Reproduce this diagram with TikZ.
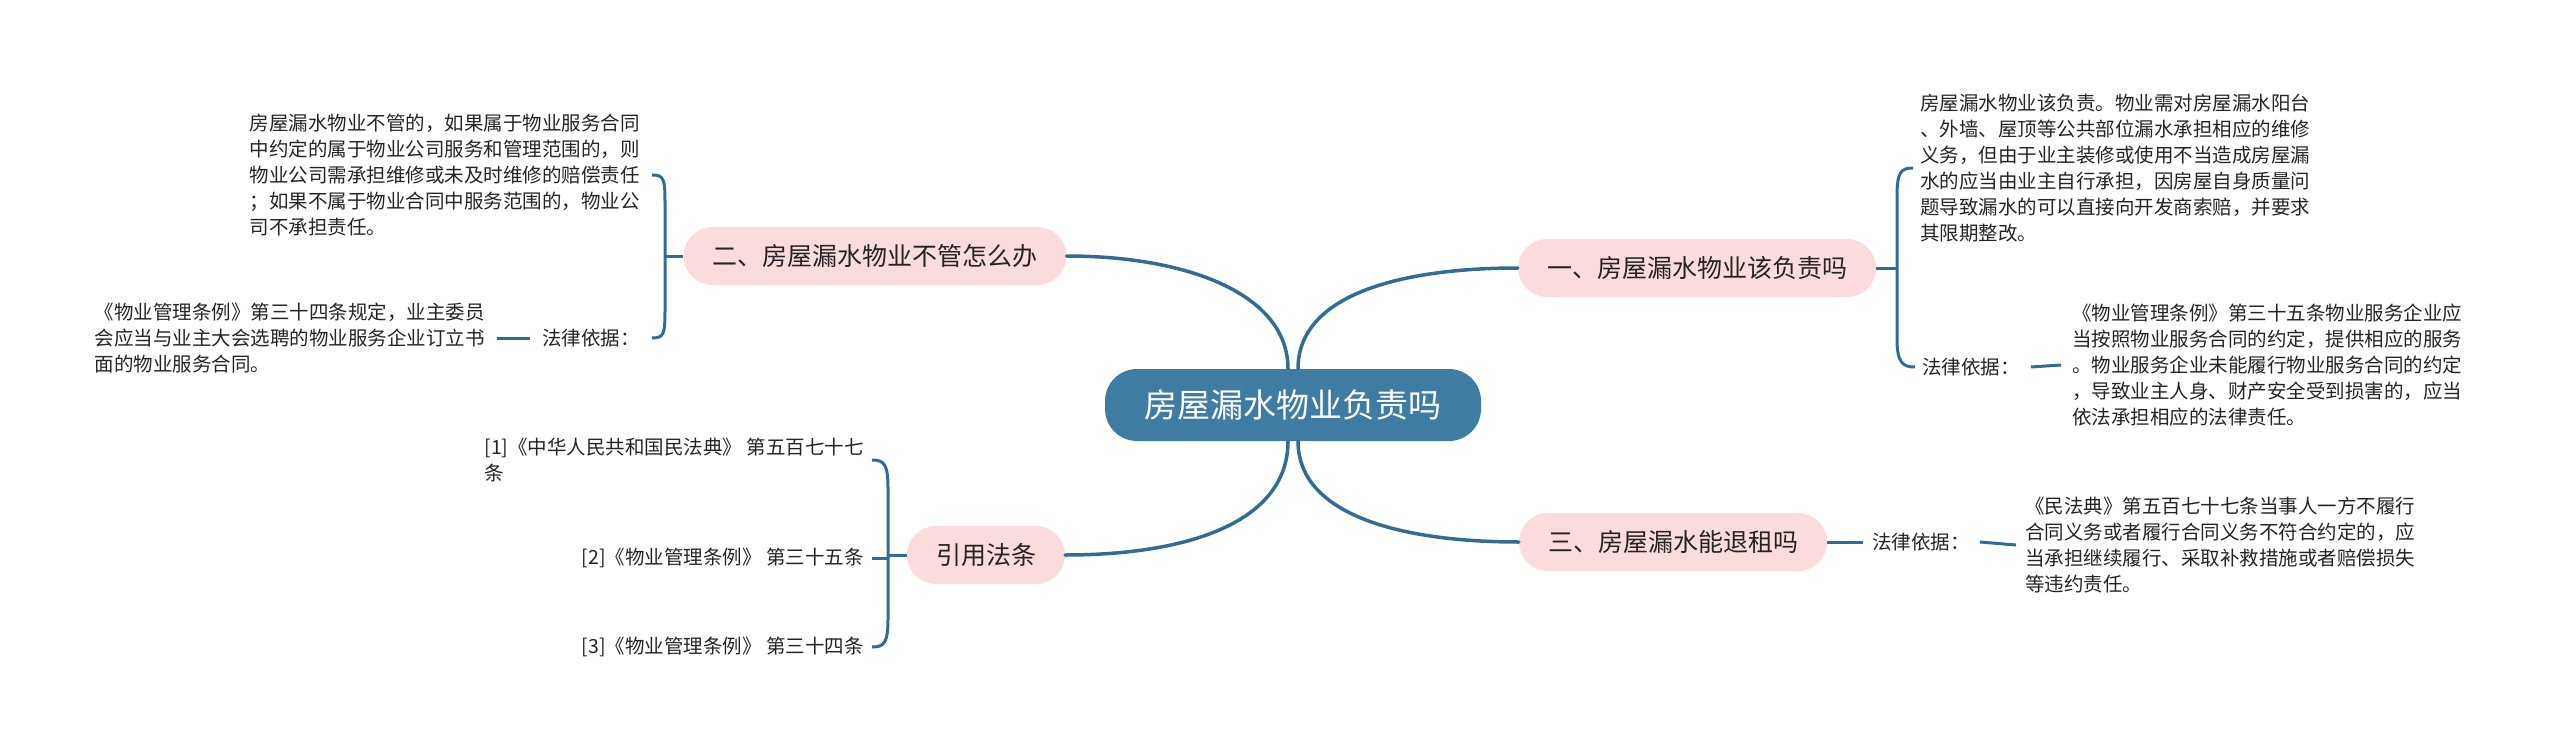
\documentclass[tikz,border=0pt]{standalone}
\usepackage{fontspec}
\usepackage{tikz}
\usetikzlibrary{calc,positioning}
\newfontfamily\cjk{Noto Sans CJK SC}
\definecolor{lineblue}{RGB}{50,108,148}
\definecolor{rootblue}{RGB}{62,124,163}
\definecolor{branchpink}{RGB}{251,220,220}
\definecolor{inkgray}{RGB}{36,36,36}
\tikzset{
  rootnode/.style={
    shape = rectangle,
    rounded corners = 32pt,
    fill = rootblue,
    text = white,
    minimum width = 376pt,
    minimum height = 72pt,
    font = \cjk\fontsize{33}{38}\selectfont
  },
  branchnode/.style={
    shape = rectangle,
    rounded corners = 29pt,
    fill = branchpink,
    text = inkgray,
    inner xsep = 29pt,
    minimum height = 58pt,
    font = \cjk\fontsize{25}{30}\selectfont
  },
  leafnode/.style={
    inner sep = 0pt,
    align = left,
    text = inkgray,
    font = \cjk\fontsize{19.5}{26}\selectfont
  },
  linkline/.style={
    draw = lineblue,
    line width = 3.5pt,
    line cap = round
  },
  bracketline/.style={
    draw = lineblue,
    line width = 3pt
  }
}
\begin{document}
\begin{tikzpicture}[x=1pt,y=-1pt]
        \useasboundingbox (0,0) rectangle (2560,752);

        % centre and branches
        \node[rootnode] (root) at (1293,405) {房屋漏水物业负责吗};
        \node[branchnode] (n1) at (1697,268) {一、房屋漏水物业该负责吗};
        \node[branchnode] (n2) at (875,256) {二、房屋漏水物业不管怎么办};
        \node[branchnode] (n3) at (1673,542) {三、房屋漏水能退租吗};
        \node[branchnode] (n4) at (986,555) {引用法条};

        \draw[linkline] ([xshift=-5pt]root.north) .. controls +(0,-75) and +(120,0) .. (n2.east);
        \draw[linkline] ([xshift=5pt]root.north) .. controls +(0,-75) and +(-115,0) .. (n1.west);
        \draw[linkline] ([xshift=-5pt]root.south) .. controls +(0,80) and +(125,0) .. (n4.east);
        \draw[linkline] ([xshift=5pt]root.south) .. controls +(0,75) and +(-115,0) .. (n3.west);

        % branch one
        \node[leafnode, anchor=west] (l1a) at (1920,168) {房屋漏水物业该负责。物业需对房屋漏水阳台\\、外墙、屋顶等公共部位漏水承担相应的维修\\义务，但由于业主装修或使用不当造成房屋漏\\水的应当由业主自行承担，因房屋自身质量问\\题导致漏水的可以直接向开发商索赔，并要求\\其限期整改。};
        \node[leafnode, anchor=west] (l1b) at (1922,367) {法律依据：};
        \node[leafnode, anchor=west] (l1c) at (2072,365) {《物业管理条例》第三十五条物业服务企业应\\当按照物业服务合同的约定，提供相应的服务\\。物业服务企业未能履行物业服务合同的约定\\，导致业主人身、财产安全受到损害的，应当\\依法承担相应的法律责任。};

        \draw[bracketline] (n1.east) -- (1897,268);
        \draw[bracketline] ($(l1a.west)+(-7,0)$) .. controls +(-12,0) and +(0,-24) .. (1897,196) -- (1897,339) .. controls +(0,24) and +(-12,0) .. ($(l1b.west)+(-7,0)$);
        \draw[bracketline] ($(l1b.east)+(11,0)$) -- ($(l1c.west)+(-11,0)$);

        % branch two
        \node[leafnode, anchor=east] (l2a) at (640,175) {房屋漏水物业不管的，如果属于物业服务合同\\中约定的属于物业公司服务和管理范围的，则\\物业公司需承担维修或未及时维修的赔偿责任\\；如果不属于物业合同中服务范围的，物业公\\司不承担责任。};
        \node[leafnode, anchor=east] (l2b) at (640,338) {法律依据：};
        \node[leafnode, anchor=east] (l2c) at (485,338) {《物业管理条例》第三十四条规定，业主委员\\会应当与业主大会选聘的物业服务企业订立书\\面的物业服务合同。};

        \draw[bracketline] (n2.west) -- (665,256);
        \draw[bracketline] ($(l2a.east)+(12,0)$) .. controls +(12,0) and +(0,-24) .. (665,203) -- (665,310) .. controls +(0,24) and +(12,0) .. ($(l2b.east)+(12,0)$);
        \draw[bracketline] ($(l2c.east)+(12,0)$) -- ($(l2b.west)+(-12,0)$);

        % branch three
        \node[leafnode, anchor=west] (l3a) at (1872,542) {法律依据：};
        \node[leafnode, anchor=west] (l3b) at (2025,545) {《民法典》第五百七十七条当事人一方不履行\\合同义务或者履行合同义务不符合约定的，应\\当承担继续履行、采取补救措施或者赔偿损失\\等违约责任。};

        \draw[bracketline] (n3.east) -- ($(l3a.west)+(-9,0)$);
        \draw[bracketline] ($(l3a.east)+(10,0)$) -- ($(l3b.west)+(-9,0)$);

        % cited articles
        \node[leafnode, anchor=east] (r1) at (864,460) {[1]《中华人民共和国民法典》 第五百七十七\\条};
        \node[leafnode, anchor=east] (r2) at (864,558) {[2]《物业管理条例》 第三十五条};
        \node[leafnode, anchor=east] (r3) at (864,647) {[3]《物业管理条例》 第三十四条};

        \draw[bracketline] (n4.west) -- (888,555);
        \draw[bracketline] ($(r1.east)+(8,0)$) .. controls +(12,0) and +(0,-24) .. (888,488) -- (888,619) .. controls +(0,24) and +(12,0) .. ($(r3.east)+(8,0)$);
        \draw[bracketline] ($(r2.east)+(8,0)$) -- (888,558);
\end{tikzpicture}
\end{document}
